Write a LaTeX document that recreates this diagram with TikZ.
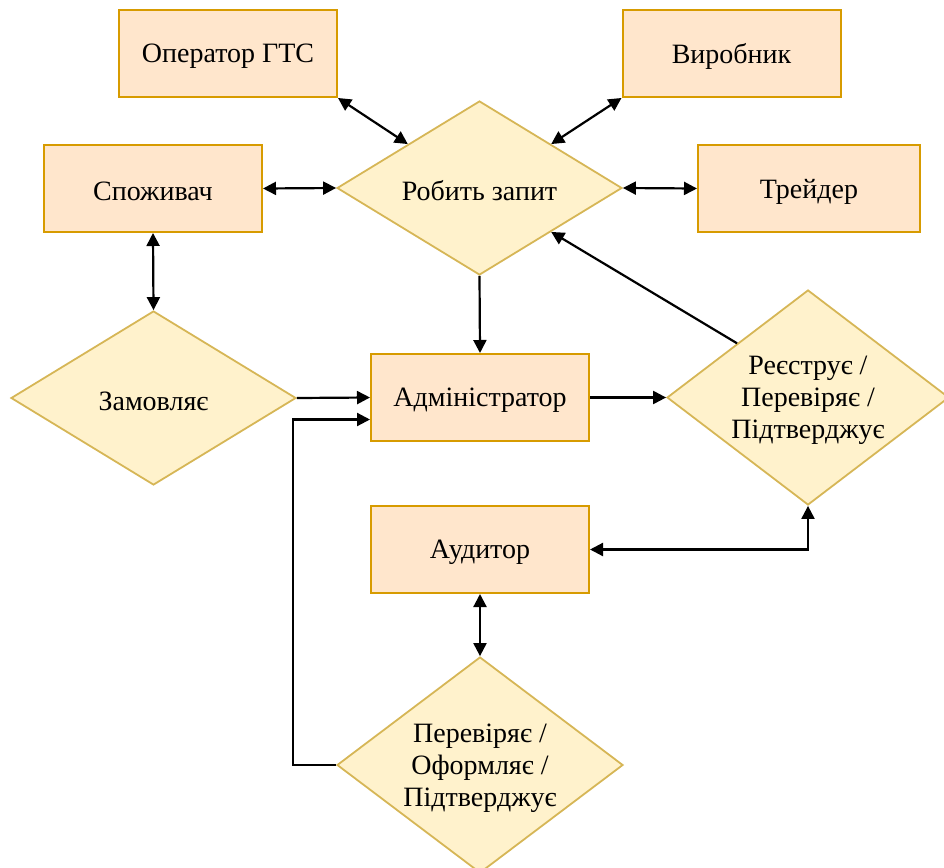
\documentclass[tikz,border=0pt]{standalone}
\usepackage{fontspec}
\setmainfont{Liberation Serif}
\usetikzlibrary{shapes.geometric,arrows.meta}
\definecolor{boxfill}{HTML}{FFE6CC}
\definecolor{boxline}{HTML}{D79B00}
\definecolor{diafill}{HTML}{FFF2CC}
\definecolor{dialine}{HTML}{D6B656}
\begin{document}
\begin{tikzpicture}[x=1pt,y=-1pt,
  actor/.style={draw=boxline,fill=boxfill,line width=2pt,rectangle,
    minimum width=218pt,minimum height=87pt,inner sep=0pt},
  action/.style={draw=dialine,fill=diafill,line width=1.8pt,diamond,
    inner sep=0pt},
  caption/.style={align=center,yshift=-3pt,font=\fontsize{28}{32}\selectfont},
  link/.style={line width=2.2pt,-{Triangle[length=13pt,width=13pt]}},
  dlink/.style={line width=2.2pt,{Triangle[length=13pt,width=13pt]}-{Triangle[length=13pt,width=13pt]}}]
\useasboundingbox (0,0) rectangle (944,867);

% participants
\node[actor] (op)  at (228,53.5)  {};
\node[actor] (vyr) at (731.5,53.5) {};
\node[actor] (spo) at (153,188.5) {};
\node[actor,minimum width=222pt] (tre) at (809,188.5) {};
\node[actor] (adm) at (480,397.5) {};
\node[actor] (aud) at (480,549.5) {};

% actions
\node[action,minimum width=285pt,minimum height=174pt] (ask) at (479.5,188) {};
\node[action,minimum width=285pt,minimum height=174pt] (ord) at (153.5,398) {};
\node[action,minimum width=282pt,minimum height=215pt] (reg) at (808,397.5) {};
\node[action,minimum width=286pt,minimum height=216pt] (chk) at (480,765) {};

% labels
\node[caption] (op-t)  at (op)  {Оператор ГТС};
\node[caption] (vyr-t) at (vyr) {Виробник};
\node[caption] (spo-t) at (spo) {Споживач};
\node[caption] (tre-t) at (tre) {Трейдер};
\node[caption] (adm-t) at (adm) {Адміністратор};
\node[caption] (aud-t) at (aud) {Аудитор};
\node[caption] (ask-t) at (ask) {Робить запит};
\node[caption] (ord-t) at (ord) {Замовляє};
\node[caption] (reg-t) at (reg) {Реєструє /\\Перевіряє /\\Підтверджує};
\node[caption] (chk-t) at (chk) {Перевіряє /\\Оформляє /\\Підтверджує};

% connectors
\draw[dlink] (op.south east) -- (ask.north west);
\draw[dlink] (vyr.south west) -- (ask.north east);
\draw[dlink] (spo.east) -- (ask.west);
\draw[dlink] (ask.east) -- (tre.west);
\draw[dlink] (spo.south) -- (ord.north);
\draw[link] (ask.south) -- (adm.north);
\draw[link] (ord.east) -- (adm.west);
\draw[link] (adm.east) -- (reg.west);
\draw[link] (reg.north west) -- (ask.south east);
\draw[dlink] (aud.east) -| (reg.south);
\draw[dlink] (aud.south) -- (chk.north);
\draw[link] (chk.west) -- ++(-43,0) |- ([yshift=-22pt]adm.west);
\end{tikzpicture}
\end{document}
